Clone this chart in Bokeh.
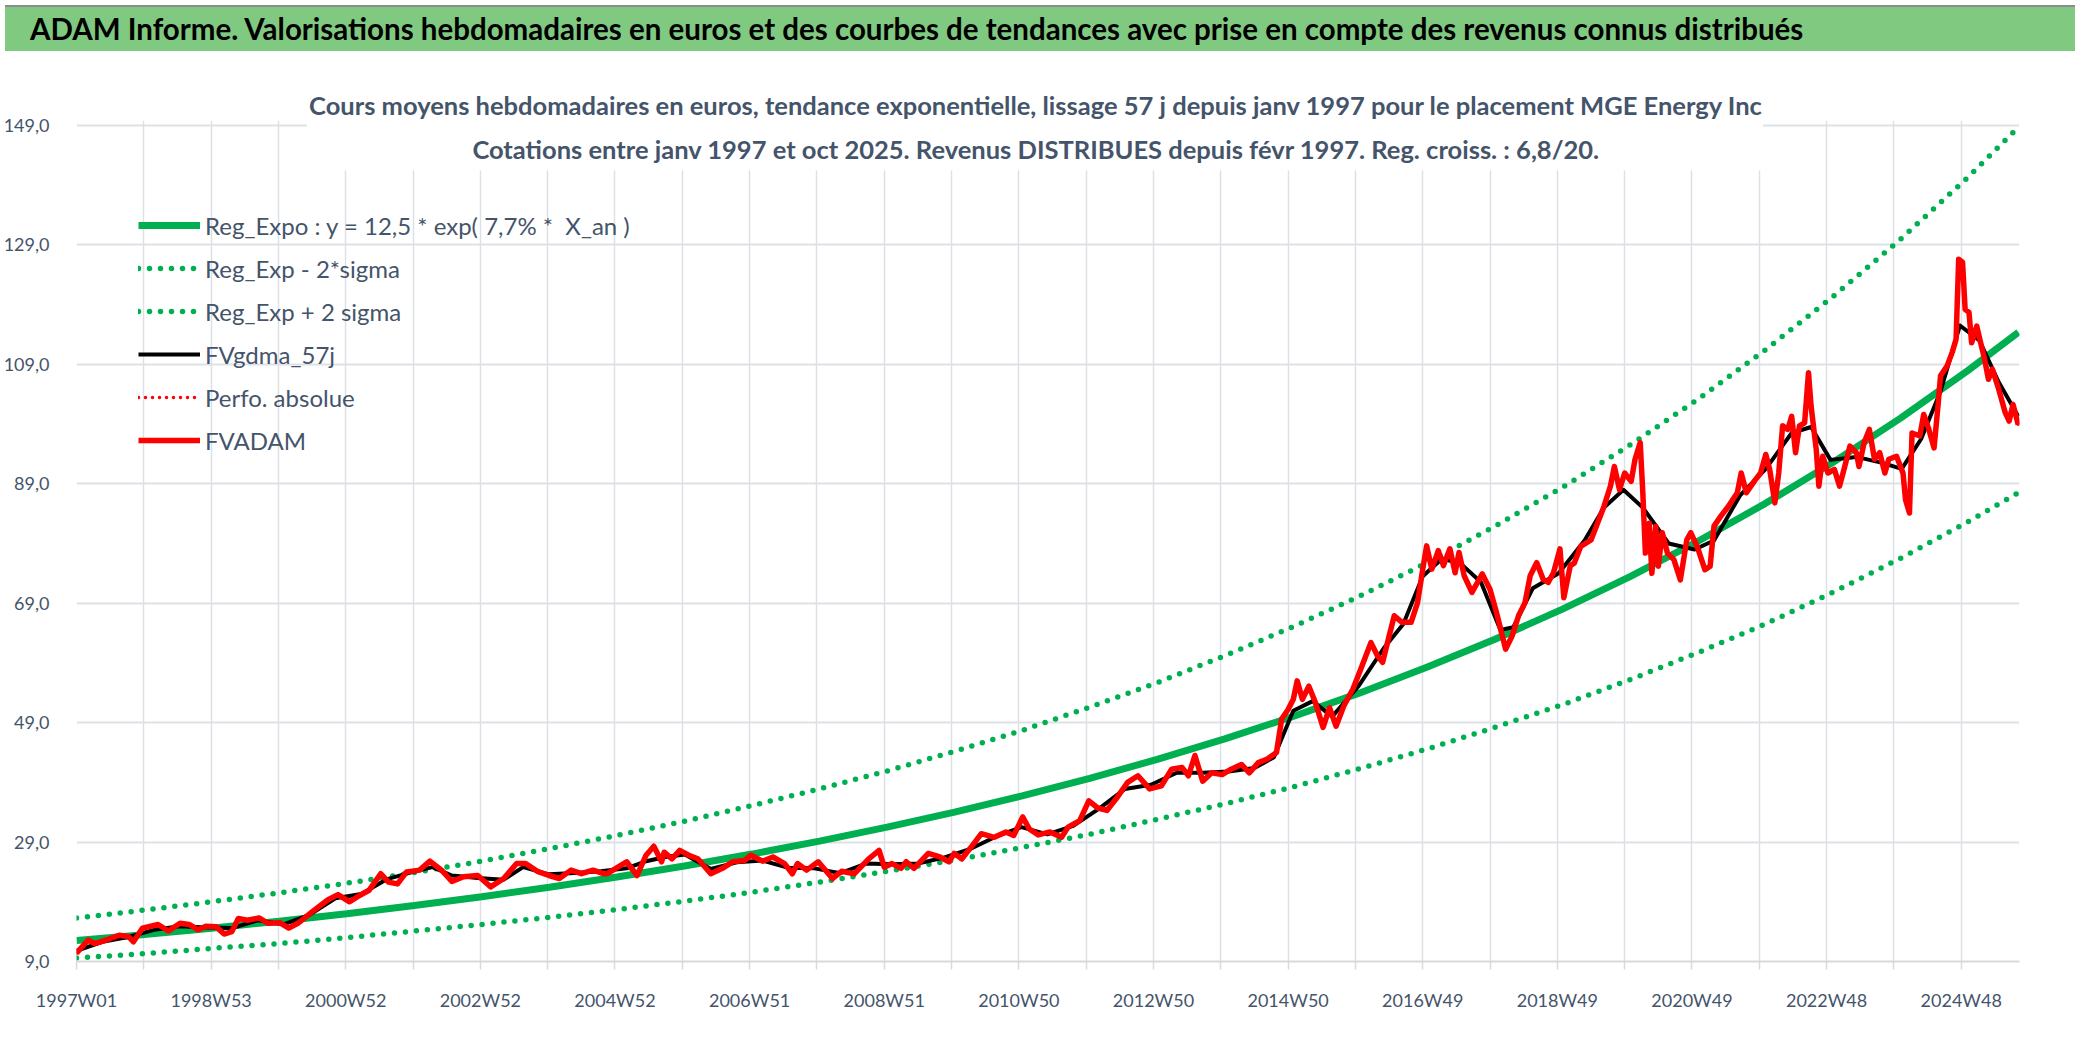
from bokeh.plotting import figure
from bokeh.models import Range1d, FixedTicker, Label, BoxAnnotation, Div, Legend, LegendItem
from bokeh.layouts import column
from bokeh.embed import file_html
from bokeh.resources import INLINE

FONT = "Lato"
GRIS_TEXTE = "#44546A"
GRIS_GRILLE = "#DDE1E6"
VERT = "#00B050"

# --- data ------------------------------------------------------------------
# x = week index since 1997W01
semaines = [0, 9, 14, 23, 33, 40, 44, 51, 63, 71, 80, 87, 94, 100, 108, 114, 120, 125, 132, 141,
            148, 157, 164, 171, 182, 194, 202, 211, 219, 226, 235, 241, 248, 255, 265, 273, 282, 290, 299, 310,
            320, 330, 340, 347, 356, 365, 373, 382, 390, 399, 407,
            410, 425, 433, 440, 446, 452, 454, 460, 466, 473, 480, 490, 499, 507, 516, 521, 530, 538, 547,
            553, 557, 564, 573, 584, 591, 601, 612, 620, 624, 630, 637, 641, 647, 658, 667, 674, 678, 684,
            692, 699, 709, 718, 724, 731, 736, 743, 752, 761, 766, 775, 782, 789, 796, 803, 812, 820, 829,
            838, 846, 854, 859, 864, 870, 877, 885, 892, 900, 906, 913, 920, 927, 931, 936, 940, 943, 947,
            952, 957, 963, 968, 973, 979, 986, 992, 1000, 1005, 1009, 1014, 1018, 1024, 1031, 1036, 1040,
            1043, 1047, 1052, 1056, 1061, 1065, 1068, 1072, 1078, 1086, 1092, 1097, 1104, 1109, 1114, 1119,
            1123, 1128, 1133, 1137, 1141, 1146, 1149, 1154,
            1157, 1162, 1170, 1175, 1180, 1185, 1188, 1192, 1196, 1201, 1204, 1208, 1210, 1212, 1215, 1217,
            1220, 1222, 1225, 1229, 1234, 1239, 1244, 1247, 1252, 1258, 1262, 1265, 1270, 1276, 1283, 1286,
            1290, 1297, 1301, 1305, 1308, 1312, 1315, 1318, 1322, 1325, 1328, 1331, 1335, 1338, 1340, 1344,
            1346, 1349, 1353, 1358, 1362, 1366, 1370, 1375, 1377, 1381, 1385, 1389, 1393, 1397, 1400, 1406,
            1411, 1413, 1416, 1418, 1424, 1427, 1431, 1435, 1438, 1440, 1445, 1449, 1452, 1454, 1457, 1459,
            1462, 1464, 1468, 1471, 1474, 1477, 1480, 1485, 1490, 1493, 1496, 1500]
fvadam = [10.4, 12.6, 12.0, 12.6, 13.4, 13.2, 12.3, 14.6, 15.2, 14.1, 15.4, 15.2, 14.3, 14.9, 14.8, 13.6, 14.0, 16.2, 15.9, 16.3,
          15.4, 15.5, 14.6, 15.4, 17.3, 19.3, 20.2, 19.0, 20.1, 20.9, 23.7, 22.3, 22.0, 24.0, 24.3, 25.8, 24.3, 22.4, 23.2, 23.4,
          21.5, 22.9, 25.4, 25.4, 24.1, 23.4, 22.9, 24.3, 23.7, 24.3, 23.7,
          23.7, 25.7, 23.4, 26.8, 28.3, 25.7, 27.3, 26.2, 27.6, 26.8, 26.2, 23.7, 24.6, 25.7, 25.9, 26.8, 25.8, 26.5, 25.4,
          23.7, 25.4, 24.3, 25.7, 22.9, 24.1, 23.7, 26.2, 27.6, 24.8, 25.4, 24.6, 25.7, 24.6, 27.1, 26.5, 25.7, 27.1, 26.2,
          28.4, 30.4, 29.8, 30.7, 30.1, 33.2, 31.2, 30.2, 30.7, 29.8, 31.5, 32.6, 35.9, 34.7, 34.3, 36.2, 39.0, 40.1, 37.9,
          38.4, 41.2, 41.5, 40.1, 43.5, 39.2, 40.6, 40.3, 41.2, 42.0, 40.6, 42.3, 42.9, 44.0, 49.6, 51.2, 52.9, 56.0, 52.9,
          55.1, 52.4, 48.2, 51.5, 48.4, 51.8, 54.6, 57.9, 62.4, 60.2, 59.1, 63.5, 66.9, 65.8, 65.8, 69.1, 74.7,
          78.6, 74.7, 77.8, 75.3, 78.1, 74.1, 77.5, 73.6, 70.8, 73.9, 71.3, 67.4, 61.3, 63.5, 66.9, 69.1,
          73.6, 75.8, 73.0, 72.5, 74.1, 78.1, 69.9, 75.3,
          75.7, 78.5, 79.6, 82.4, 85.2, 88.6, 91.9, 88.0, 90.8, 89.4, 93.1, 95.9, 87.5, 77.4, 82.4, 74.0,
          81.9, 75.2, 80.8, 77.4, 76.3, 72.9, 79.6, 80.8, 78.5, 74.6, 75.2, 81.9, 83.5, 85.2, 87.5, 90.8,
          87.5, 89.7, 90.8, 93.9, 91.4, 85.8, 90.8, 98.7, 98.1, 100.3, 94.2, 98.7, 99.2, 107.6, 102.0, 94.7,
          88.6, 93.6, 90.8, 91.4, 88.6, 91.9, 95.3, 94.2, 91.9, 95.9, 98.1, 93.1, 94.2, 90.8, 93.1, 93.6,
          90.8, 86.3, 84.1, 97.5, 97.0, 100.6, 98.1, 95.0, 102.0, 107.1, 108.7, 111.0, 113.2, 126.6, 126.1, 118.2,
          117.7, 112.6, 115.4, 112.6, 109.9, 106.5, 108.2, 104.8, 100.9, 99.5, 102.3, 98.9]

semaines_mm = [0, 20, 40, 60, 80, 100, 120, 140, 160, 180, 200, 220, 240, 260, 275, 290, 310, 330, 345, 365,
               385, 405, 425, 440, 455, 470, 490, 510, 530, 550, 570, 590, 610, 630, 650, 670, 690, 710, 730, 750,
               770, 790, 810, 830, 850, 870, 890, 910, 925, 940, 955, 970, 990, 1010, 1025, 1040, 1055, 1070, 1085,
               1100, 1110, 1125, 1145, 1165, 1180, 1195, 1210, 1230, 1250, 1265, 1285, 1305, 1325, 1340, 1355,
               1375, 1395, 1410, 1425, 1440, 1455, 1470, 1485, 1500]
fvgdma = [10.8, 12.3, 13.1, 14.3, 14.9, 14.7, 14.6, 15.9, 15.2, 16.8, 19.6, 20.3, 22.8, 24.0, 24.8, 23.4, 23.0, 22.7, 24.8, 23.6,
          23.8, 24.1, 24.6, 25.8, 26.5, 26.9, 24.5, 25.6, 25.9, 24.7, 24.6, 23.8, 25.4, 25.3, 25.4, 26.4, 27.8, 29.9, 31.5, 30.3,
          31.7, 34.6, 37.9, 38.6, 40.6, 40.6, 40.8, 41.4, 43.2, 51.0, 52.6, 50.0, 55.0, 61.5, 65.5, 73.5, 76.5, 75.5, 72.5,
          64.5, 65.0, 71.5, 74.0, 79.5, 85.0, 88.0, 85.0, 79.0, 78.0, 79.5, 87.0, 91.5, 97.5, 98.5, 93.0,
          93.5, 92.5, 91.5, 96.5, 104.5, 115.5, 113.0, 106.0, 100.3]

# trend curves, one point per year (X_an = years since janv 1997)
x_an = [0, 1, 2, 3, 4, 5, 6, 7, 8, 9, 10, 11, 12, 13, 14, 15, 16, 17, 18, 19, 20, 21, 22, 23, 24, 25, 26, 27, 28, 28.75]
reg_expo = [12.5, 13.5, 14.58, 15.75, 17.01, 18.37, 19.84, 21.43, 23.14, 24.99, 26.99, 29.15, 31.49, 34.01, 36.73,
            39.67, 42.85, 46.28, 49.98, 53.98, 58.3, 62.97, 68.01, 73.45, 79.33, 85.68, 92.54, 99.95, 107.95, 114.37]
reg_plus = [16.3, 17.6, 19.0, 20.5, 22.1, 23.9, 25.8, 27.9, 30.1, 32.5, 35.1, 37.9, 40.9, 44.2, 47.7,
            51.6, 55.7, 60.2, 65.0, 70.2, 75.8, 81.9, 88.4, 95.5, 103.1, 111.4, 120.3, 129.9, 140.3, 148.7]
reg_moins = [9.6, 10.3, 11.2, 12.0, 13.0, 14.1, 15.2, 16.4, 17.7, 19.1, 20.6, 22.3, 24.1, 26.0, 28.1,
             30.3, 32.8, 35.4, 38.2, 41.3, 44.6, 48.2, 52.0, 56.2, 60.7, 65.5, 70.8, 76.5, 82.6, 87.5]

y_ticks = [9, 29, 49, 69, 89, 109, 129, 149]
x_labels = ["1997W01", "1998W53", "2000W52", "2002W52", "2004W52", "2006W51", "2008W51", "2010W50",
            "2012W50", "2014W50", "2016W49", "2018W49", "2020W49", "2022W48", "2024W48"]

titre = "ADAM Informe. Valorisations hebdomadaires en euros et des courbes de tendances avec prise en compte des revenus connus distribués"
sous_titre_1 = "Cours moyens hebdomadaires en euros, tendance exponentielle, lissage 57 j depuis janv 1997 pour le placement MGE Energy Inc"
sous_titre_2 = "Cotations entre janv 1997 et oct 2025. Revenus DISTRIBUES depuis févr 1997. Reg. croiss. : 6,8/20."

x_trend = [a * 52.18 for a in x_an]
Y_HAUT = 157.2   # frame goes a bit above 149 so the title block sits inside it

# --- figure ------------------------------------------------------------------
p = figure(width=2070, height=975, x_range=Range1d(0, 1501), y_range=Range1d(9, Y_HAUT),
           tools="", toolbar_location=None, output_backend="svg",
           min_border_left=71, min_border_right=51, min_border_top=20, min_border_bottom=70)
p.outline_line_color = None
p.background_fill_color = "white"
p.border_fill_color = "white"

# x axis: gridline every 52 weeks, label every 104
x_ticks = list(range(0, 1457, 52))
p.xaxis.ticker = FixedTicker(ticks=x_ticks)
p.xaxis.major_label_overrides = {t: (x_labels[t // 104] if t % 104 == 0 else "") for t in x_ticks}
p.xaxis.axis_line_color = "#D9D9D9"
p.xaxis.axis_line_width = 2
p.xaxis.major_tick_line_color = "#D9D9D9"
p.xaxis.major_tick_line_width = 1.5
p.xaxis.major_tick_out = 8
p.xaxis.major_tick_in = 0
p.xaxis.minor_tick_line_color = None
p.xaxis.major_label_standoff = 19
p.xaxis.major_label_text_font = FONT
p.xaxis.major_label_text_font_size = "18px"
p.xaxis.major_label_text_color = GRIS_TEXTE

p.yaxis.ticker = FixedTicker(ticks=y_ticks)
p.yaxis.major_label_overrides = {t: f"{t},0" for t in y_ticks}
p.yaxis.axis_line_color = None
p.yaxis.major_tick_line_color = None
p.yaxis.minor_tick_line_color = None
p.yaxis.major_label_standoff = 21
p.yaxis.major_label_text_font = FONT
p.yaxis.major_label_text_font_size = "18px"
p.yaxis.major_label_text_color = GRIS_TEXTE

p.xgrid.grid_line_color = GRIS_GRILLE
p.xgrid.grid_line_width = 1.5
p.ygrid.grid_line_color = GRIS_GRILLE
p.ygrid.grid_line_width = 2

# series
r_expo = p.line(x_trend, reg_expo, line_color=VERT, line_width=7)
r_moins = p.line(x_trend, reg_moins, line_color=VERT, line_width=5.5, line_dash="0 11", line_cap="round")
r_plus = p.line(x_trend, reg_plus, line_color=VERT, line_width=5.5, line_dash="0 11", line_cap="round")
r_mm = p.line(semaines_mm, fvgdma, line_color="black", line_width=4, line_join="round")
# Perfo. absolue follows FVADAM and is hidden under it
r_perfo = p.line(semaines, fvadam, line_color="red", line_width=3.5, line_dash="0 7", line_cap="round")
r_adam = p.line(semaines, fvadam, line_color="#FF0000", line_width=5.5, line_join="round")

legend = Legend(items=[
    LegendItem(label="Reg_Expo : y = 12,5 * exp( 7,7% *  X_an )", renderers=[r_expo]),
    LegendItem(label="Reg_Exp - 2*sigma", renderers=[r_moins]),
    LegendItem(label="Reg_Exp + 2 sigma", renderers=[r_plus]),
    LegendItem(label="FVgdma_57j", renderers=[r_mm]),
    LegendItem(label="Perfo. absolue", renderers=[r_perfo]),
    LegendItem(label="FVADAM", renderers=[r_adam]),
], location=(62, 503))
legend.margin = 0
legend.padding = 0
legend.spacing = 7
legend.glyph_width = 62
legend.glyph_height = 36
legend.label_height = 36
legend.label_standoff = 5
legend.label_text_font = FONT
legend.label_text_font_size = "24px"
legend.label_text_color = GRIS_TEXTE
legend.background_fill_alpha = 0
legend.border_line_color = None
p.add_layout(legend, "center")

# white areas: above the 149 gridline, and behind the chart title
p.add_layout(BoxAnnotation(left=0, right=1501, bottom=149.8, top=Y_HAUT,
                           fill_color="white", fill_alpha=1.0, line_color=None))
p.add_layout(BoxAnnotation(left=178, right=1303, bottom=141.5, top=Y_HAUT,
                           fill_color="white", fill_alpha=1.0, line_color=None))
for txt, yv in [(sous_titre_1, 152.35), (sous_titre_2, 145.0)]:
    p.add_layout(Label(x=741.5, y=yv, text=txt, text_align="center", text_baseline="middle",
                       text_font=FONT, text_font_size="25.5px", text_font_style="bold",
                       text_color=GRIS_TEXTE))

bandeau = Div(
    text=('<div style="background:#80C980;width:2070px;height:46px;line-height:44px;padding-left:25px;'
          'box-sizing:border-box;border-top:2px solid #8C8C8C;white-space:nowrap;color:black;'
          f'font-family:{FONT};font-weight:bold;font-size:29.5px;">{titre}</div>'),
    width=2070, height=46)

layout = column(bandeau, p, spacing=0)

with open("out.html", "w", encoding="utf-8") as f:
    f.write(file_html(layout, INLINE))
